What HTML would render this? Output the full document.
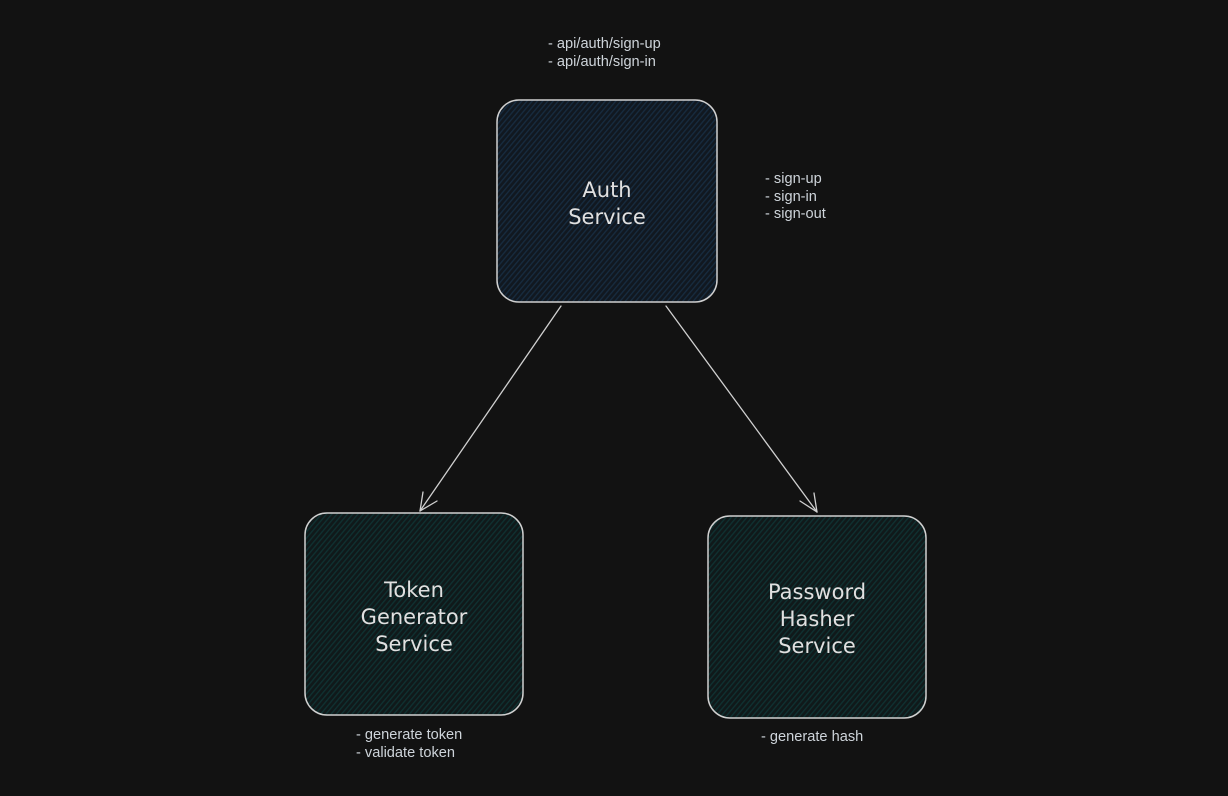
<!DOCTYPE html>
<html><head><meta charset="utf-8"><style>
html,body{margin:0;padding:0;background:#121212;}
body{width:1228px;height:796px;overflow:hidden;position:relative;font-family:"Liberation Sans",sans-serif;}
.t{position:absolute;color:#ced4da;font-size:14.6px;line-height:17.5px;white-space:pre;}
.h{font-family:"Comic Sans MS","DejaVu Sans",sans-serif;fill:#e0e0e0;font-size:21px;text-anchor:middle;}
</style></head><body>
<svg width="1228" height="796" style="position:absolute;left:0;top:0">
<defs>
<pattern id="pb" width="4" height="4" patternUnits="userSpaceOnUse" patternTransform="rotate(-50)">
<rect width="4" height="4" fill="#111820"/><rect width="4" height="1.3" fill="#172c40"/></pattern>
<pattern id="pg" width="4" height="4" patternUnits="userSpaceOnUse" patternTransform="rotate(-50)">
<rect width="4" height="4" fill="#10191a"/><rect width="4" height="1.3" fill="#0f3232"/></pattern>
</defs>
<rect x="497" y="100" width="220" height="202" rx="22" fill="url(#pb)" stroke="#d0d0d0" stroke-width="1.5"/>
<rect x="305" y="513" width="218" height="202" rx="22" fill="url(#pg)" stroke="#d0d0d0" stroke-width="1.5"/>
<rect x="708" y="516" width="218" height="202" rx="22" fill="url(#pg)" stroke="#d0d0d0" stroke-width="1.5"/>
<g stroke="#d0d0d0" stroke-width="1.3" fill="none" stroke-linecap="round">
<path d="M561 306 L420 511"/><path d="M420 511 L423 492"/><path d="M420 511 L437 501"/>
<path d="M666 306 L817 512"/><path d="M817 512 L800 501"/><path d="M817 512 L814 493"/>
</g>
<text class="h" x="607" y="197">Auth</text>
<text class="h" x="607" y="224">Service</text>
<text class="h" x="414" y="597">Token</text>
<text class="h" x="414" y="624">Generator</text>
<text class="h" x="414" y="651">Service</text>
<text class="h" x="817" y="599">Password</text>
<text class="h" x="817" y="626">Hasher</text>
<text class="h" x="817" y="653">Service</text>
</svg>
<div class="t" style="left:548px;top:36px">- api/auth/sign-up
- api/auth/sign-in</div>
<div class="t" style="left:765px;top:171px">- sign-up
- sign-in
- sign-out</div>
<div class="t" style="left:356px;top:727px">- generate token
- validate token</div>
<div class="t" style="left:761px;top:729px">- generate hash</div>
</body></html>
